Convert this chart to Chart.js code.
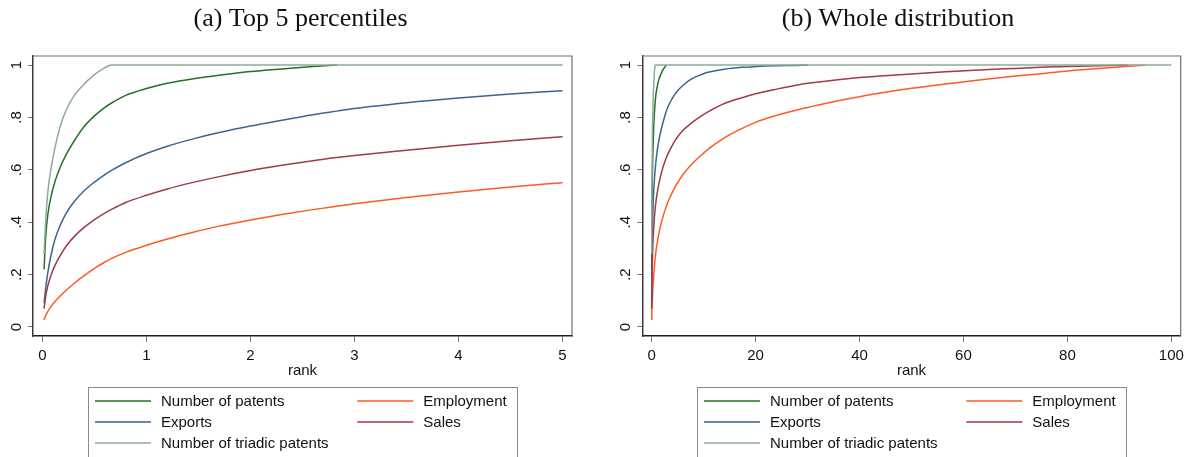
<!DOCTYPE html>
<html>
<head>
<meta charset="utf-8">
<script src="https://cdn.jsdelivr.net/npm/chart.js@4.4.0/dist/chart.umd.min.js"></script>
<style>
  html, body { margin: 0; padding: 0; background: #fff; }
  #wrap { position: relative; width: 1189px; height: 457px; overflow: hidden; }
  .panel { position: absolute; top: 0; height: 457px; }
  #panelA { left: 0; width: 595px; }
  #panelB { left: 595px; width: 594px; }
</style>
</head>
<body>
<div id="wrap">
  <div class="panel" id="panelA"><canvas id="chartA"></canvas></div>
  <div class="panel" id="panelB"><canvas id="chartB"></canvas></div>
</div>
<script>
// Cumulative share curves by firm rank (percent of firms, best first)
const rank = [0.015, 0.03, 0.05, 0.08, 0.12, 0.17, 0.23, 0.3, 0.4, 0.5, 0.6, 0.66, 0.8, 1, 1.2, 1.45, 1.7, 2, 2.3, 2.6, 2.83, 3, 3.5, 4, 4.5, 5, 6, 7.75, 9.5, 11, 14, 17.4, 20, 23.8, 28.9, 30, 35, 40, 44, 50, 55, 63, 70, 76, 82, 88, 91.6, 94.9, 100];

const patents = [0.22, 0.34, 0.425, 0.495, 0.555, 0.61, 0.66, 0.707, 0.765, 0.806, 0.838, 0.854, 0.884, 0.91, 0.93, 0.948, 0.961, 0.975, 0.985, 0.994, 1,
  null, null, null, null, null, null, null, null, null, null, null, null, null, null, null, null, null, null, null, null, null, null, null, null, null, null, null, null];

const employment = [0.027, 0.043, 0.059, 0.077, 0.097, 0.118, 0.141, 0.165, 0.196, 0.224, 0.248, 0.261, 0.285, 0.312, 0.336, 0.362, 0.385, 0.408, 0.429, 0.448, 0.461, 0.47, 0.494, 0.515, 0.534, 0.551, 0.581, 0.622, 0.655, 0.681, 0.722, 0.758, 0.781, 0.806, 0.833, 0.838, 0.86, 0.879, 0.893, 0.911, 0.924, 0.943, 0.958, 0.969, 0.981, 0.99, 0.995, 0.999, null];

const exportsShare = [0.09, 0.145, 0.205, 0.27, 0.335, 0.388, 0.436, 0.476, 0.52, 0.553, 0.582, 0.597, 0.627, 0.662, 0.69, 0.718, 0.742, 0.767, 0.789, 0.81, 0.824, 0.834, 0.856, 0.874, 0.889, 0.902, 0.922, 0.948, 0.963, 0.973, 0.984, 0.991, 0.994, 0.997, 0.999, 1,
  null, null, null, null, null, null, null, null, null, null, null, null, null];

const sales = [0.07, 0.115, 0.155, 0.196, 0.235, 0.272, 0.31, 0.343, 0.38, 0.41, 0.435, 0.448, 0.475, 0.503, 0.527, 0.552, 0.574, 0.597, 0.617, 0.635, 0.647, 0.655, 0.675, 0.694, 0.711, 0.726, 0.75, 0.78, 0.805, 0.823, 0.853, 0.875, 0.89, 0.907, 0.927, 0.93, 0.942, 0.952, 0.958, 0.966, 0.972, 0.981, 0.987, 0.992, 0.995, 0.998, 1, null, null];

const triadic = [0.28, 0.40, 0.51, 0.60, 0.685, 0.765, 0.83, 0.88, 0.927, 0.963, 0.99, 1,
  1, 1, 1, 1, 1, 1, 1, 1, 1, 1, 1, 1, 1, 1, 1, 1, 1, 1, 1, 1, 1, 1, 1, 1, 1, 1, 1, 1, 1, 1, 1, 1, 1, 1, 1, 1, 1];

const seriesLabels = ['Number of patents', 'Employment', 'Exports', 'Sales', 'Number of triadic patents'];
const seriesValues = [patents, employment, exportsShare, sales, triadic];
const seriesColors = ['#217321', '#ff5a22', '#3a6590', '#a03a45', '#8fa99c'];

const yTicks = [0, 0.2, 0.4, 0.6, 0.8, 1];
const yTickLabels = ['0', '.2', '.4', '.6', '.8', '1'];
const xTicksTop5 = [0, 1, 2, 3, 4, 5];
const xTicksAll = [0, 20, 40, 60, 80, 100];

const sansFont = '"Liberation Sans", Arial, sans-serif';

// Outline around the plot region (top and right edges; axes draw the others)
const plotFrame = {
  id: 'plotFrame',
  afterDraw(chart) {
    const { ctx, chartArea: a } = chart;
    ctx.save();
    ctx.strokeStyle = '#6e6e6e';
    ctx.lineWidth = 1.2;
    ctx.beginPath();
    ctx.moveTo(a.left, a.top);
    ctx.lineTo(a.right, a.top);
    ctx.lineTo(a.right, a.bottom);
    ctx.stroke();
    ctx.restore();
  }
};

// Panel heading in serif type
const panelHeading = {
  id: 'panelHeading',
  afterDraw(chart, args, opts) {
    const { ctx } = chart;
    ctx.save();
    ctx.font = '26px "Liberation Serif", "Times New Roman", serif';
    ctx.fillStyle = '#111';
    ctx.textAlign = 'center';
    ctx.textBaseline = 'alphabetic';
    ctx.fillText(opts.text, opts.x, 26);
    ctx.restore();
  }
};

// Two-column boxed key under the plot, built from the datasets
const boxedKey = {
  id: 'boxedKey',
  afterDraw(chart) {
    const { ctx, chartArea: a } = chart;
    const w = 429;
    const left = Math.round((a.left + a.right) / 2 - w / 2) + 0.5;
    const top = Math.round(a.bottom + 50.5) + 0.5;
    ctx.save();
    ctx.strokeStyle = '#8a8a8a';
    ctx.lineWidth = 1;
    ctx.strokeRect(left, top, w, 120);
    ctx.font = '15px ' + sansFont;
    ctx.textBaseline = 'middle';
    ctx.textAlign = 'left';
    chart.data.datasets.forEach((d, i) => {
      const col = i % 2, row = Math.floor(i / 2);
      const x0 = left + (col ? 268.8 : 6.5);
      const y = Math.round(top + 13 + row * 21.3);
      ctx.strokeStyle = d.borderColor;
      ctx.lineWidth = 1.5;
      ctx.beginPath();
      ctx.moveTo(x0, y);
      ctx.lineTo(x0 + 56, y);
      ctx.stroke();
      ctx.fillStyle = '#111';
      ctx.fillText(d.label, x0 + 66, y + 1);
    });
    ctx.restore();
  }
};

function buildPanel(canvasId, xLimit, xMin, xMax, xTicks, heading, headingX, pad) {
  const datasets = seriesLabels.map((label, s) => ({
    label,
    data: rank.map((r, i) => ({ x: r, y: seriesValues[s][i] })).filter(p => p.x <= xLimit),
    borderColor: seriesColors[s],
    backgroundColor: seriesColors[s],
    borderWidth: 1.5,
    pointRadius: 0,
    fill: false,
    spanGaps: false,
    cubicInterpolationMode: 'monotone',
    order: seriesLabels.length - s
  }));

  return new Chart(document.getElementById(canvasId), {
    type: 'line',
    data: { datasets },
    options: {
      responsive: true,
      maintainAspectRatio: false,
      animation: false,
      events: [],
      layout: { padding: pad },
      plugins: {
        legend: { display: false },
        tooltip: { enabled: false },
        title: { display: false },
        panelHeading: { text: heading, x: headingX }
      },
      scales: {
        x: {
          type: 'linear',
          min: xMin,
          max: xMax,
          afterBuildTicks: (sc) => { sc.ticks = xTicks.map(v => ({ value: v })); },
          afterFit: (sc) => { sc.height = 45; },
          grid: { drawOnChartArea: false, drawTicks: true, tickLength: 6, color: '#777', tickWidth: 1 },
          border: { display: true, color: '#1e1e1e', width: 1.5 },
          ticks: {
            color: '#111',
            padding: 5,
            maxRotation: 0,
            autoSkip: false,
            font: { family: sansFont, size: 15 },
            callback: (v) => String(v)
          },
          title: {
            display: true,
            text: 'rank',
            color: '#111',
            padding: { top: 0, bottom: 1 },
            font: { family: sansFont, size: 15 }
          }
        },
        y: {
          type: 'linear',
          min: -0.0344,
          max: 1.0344,
          afterBuildTicks: (sc) => { sc.ticks = yTicks.map(v => ({ value: v })); },
          afterFit: (sc) => { sc.width = 33; },
          grid: { drawOnChartArea: false, drawTicks: true, tickLength: 5, color: '#777', tickWidth: 1 },
          border: { display: true, color: '#3a3a3a', width: 1.5 },
          ticks: {
            color: '#111',
            padding: 5,
            minRotation: 90,
            maxRotation: 90,
            crossAlign: 'center',
            autoSkip: false,
            font: { family: sansFont, size: 15 },
            callback: (v) => {
              const k = yTicks.findIndex(t => Math.abs(t - v) < 1e-9);
              return k >= 0 ? yTickLabels[k] : '';
            }
          }
        }
      }
    },
    plugins: [plotFrame, panelHeading, boxedKey]
  });
}

buildPanel('chartA', 5, -0.0913, 5.0913, xTicksTop5, '(a) Top 5 percentiles', 300.5,
  { left: 0, right: 23, top: 56, bottom: 76 });
buildPanel('chartB', 100, -1.8, 101.8, xTicksAll, '(b) Whole distribution', 303,
  { left: 14.3, right: 8.3, top: 56, bottom: 76 });
</script>
</body>
</html>
